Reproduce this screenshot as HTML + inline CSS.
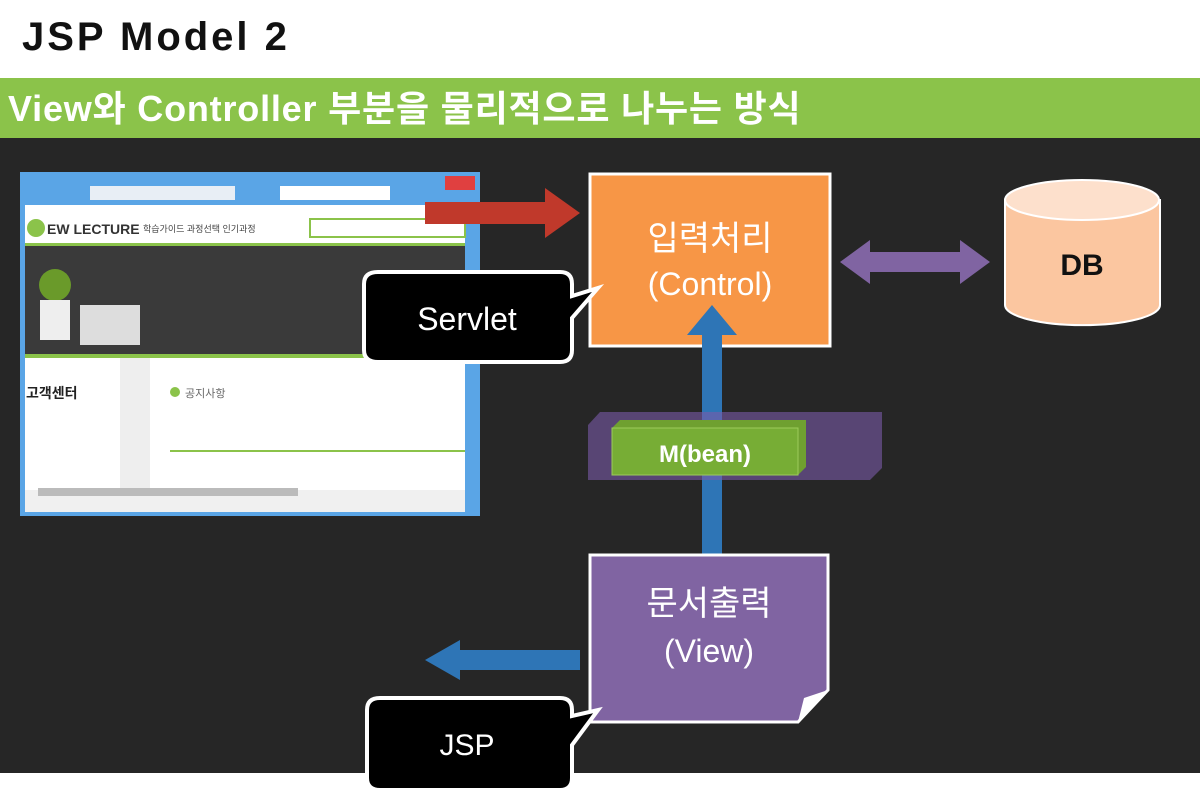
<!DOCTYPE html>
<html><head><meta charset="utf-8"><style>
body{margin:0;width:1200px;height:795px;overflow:hidden;background:#fff;font-family:"Liberation Sans","Noto Sans CJK KR",sans-serif}
</style></head><body>
<svg width="1200" height="795" xmlns="http://www.w3.org/2000/svg" style="position:absolute;left:0;top:0">
<rect x="0" y="0" width="1200" height="795" fill="#fff"/>
<text x="22" y="50" font-size="40" font-weight="bold" fill="#111" letter-spacing="3" font-family="Liberation Sans,sans-serif">JSP Model 2</text>
<rect x="0" y="78" width="1200" height="60" fill="#8bc34a"/>
<text x="8" y="121" font-size="36" font-weight="bold" fill="#fff" letter-spacing="0.8" font-family="Liberation Sans,Noto Sans CJK KR,sans-serif">View와 Controller 부분을 물리적으로 나누는 방식</text>
<rect x="0" y="138" width="1200" height="635" fill="#262626"/>
<!-- browser -->
<rect x="20" y="172" width="460" height="344" fill="#5aa5e6"/>
<rect x="25" y="205" width="440" height="285" fill="#fff"/>
<rect x="90" y="186" width="145" height="14" fill="#e8eef5"/>
<rect x="280" y="186" width="110" height="14" fill="#fff"/>
<rect x="445" y="176" width="30" height="14" fill="#e04040"/>
<circle cx="36" cy="228" r="9" fill="#8bc34a"/>
<text x="47" y="234" font-size="14" font-weight="bold" fill="#333">EW LECTURE</text>
<text x="143" y="232" font-size="9" fill="#444">학습가이드  과정선택  인기과정</text>
<rect x="310" y="219" width="155" height="18" fill="#fff" stroke="#8bc34a" stroke-width="2"/>
<rect x="25" y="243" width="440" height="3" fill="#8bc34a"/>
<rect x="25" y="246" width="440" height="108" fill="#3a3a3a"/>
<circle cx="55" cy="285" r="16" fill="#6a9a2a"/>
<rect x="40" y="300" width="30" height="40" fill="#eee"/>
<rect x="80" y="305" width="60" height="40" fill="#ddd"/>
<rect x="25" y="354" width="440" height="4" fill="#8bc34a"/>
<rect x="120" y="358" width="30" height="130" fill="#eee"/>
<text x="26" y="398" font-size="14" font-weight="bold" fill="#222">고객센터</text>
<circle cx="175" cy="392" r="5" fill="#8bc34a"/>
<text x="185" y="397" font-size="11" fill="#666">공지사항</text>
<rect x="170" y="450" width="295" height="2" fill="#8bc34a"/>
<rect x="25" y="490" width="440" height="22" fill="#f0f0f0"/>
<rect x="38" y="488" width="260" height="8" fill="#bbb"/>
<!-- red arrow -->
<polygon points="425,202 545,202 545,188 580,213 545,238 545,224 425,224" fill="#c0392b"/>
<!-- orange box -->
<rect x="590" y="174" width="240" height="172" fill="#f79646" stroke="#fff" stroke-width="3"/>
<text x="710" y="250" font-size="34" fill="#fff" text-anchor="middle">입력처리</text>
<text x="710" y="295" font-size="32" fill="#fff" text-anchor="middle">(Control)</text>
<!-- DB -->
<path d="M1005,200 L1005,305 A77,20 0 0 0 1160,305 L1160,200 Z" fill="#fbc6a0" stroke="#fff" stroke-width="2"/>
<ellipse cx="1082" cy="200" rx="77" ry="20" fill="#fde0cc" stroke="#fff" stroke-width="2"/>
<text x="1082" y="275" font-size="30" font-weight="bold" fill="#111" text-anchor="middle">DB</text>
<!-- purple double arrow -->
<polygon points="840,262 870,240 870,252 960,252 960,240 990,262 960,284 960,272 870,272 870,284" fill="#8064a2"/>
<!-- blue vertical -->
<polygon points="712,305 737,335 722,335 722,555 737,555 712,585 687,555 702,555 702,335 687,335" fill="#2e75b6"/>
<!-- M bean slab -->
<polygon points="588,425 600,412 882,412 882,468 870,480 588,480" fill="#7a5aa8" opacity="0.6"/>
<polygon points="612,428 620,420 806,420 806,467 798,475 612,475" fill="#6fa030"/>
<rect x="612" y="428" width="186" height="47" fill="#77ad35" stroke="#9ccc5a"/>
<text x="705" y="462" font-size="24" font-weight="bold" fill="#fff" text-anchor="middle">M(bean)</text>
<!-- view box -->
<polygon points="590,555 828,555 828,690 798,722 590,722" fill="#8064a2" stroke="#fff" stroke-width="3"/>
<polygon points="798,722 804,698 828,690" fill="#fff"/>
<text x="709" y="615" font-size="34" fill="#fff" text-anchor="middle">문서출력</text>
<text x="709" y="662" font-size="32" fill="#fff" text-anchor="middle">(View)</text>
<!-- blue left arrow -->
<polygon points="580,650 460,650 460,640 425,660 460,680 460,670 580,670" fill="#2e75b6"/>
<!-- servlet callout -->
<path d="M378,272 L560,272 Q572,272 572,284 L572,296 L598,288 L572,318 L572,350 Q572,362 560,362 L378,362 Q364,362 364,350 L364,284 Q364,272 378,272 Z" fill="#000" stroke="#fff" stroke-width="4"/>
<text x="467" y="330" font-size="32" fill="#fff" text-anchor="middle">Servlet</text>
<!-- JSP callout -->
<path d="M380,698 L560,698 Q572,698 572,710 L572,716 L598,710 L572,745 L572,778 Q572,790 560,790 L380,790 Q367,790 367,778 L367,710 Q367,698 380,698 Z" fill="#000" stroke="#fff" stroke-width="4"/>
<text x="467" y="755" font-size="30" fill="#fff" text-anchor="middle">JSP</text>
</svg>
</body></html>
